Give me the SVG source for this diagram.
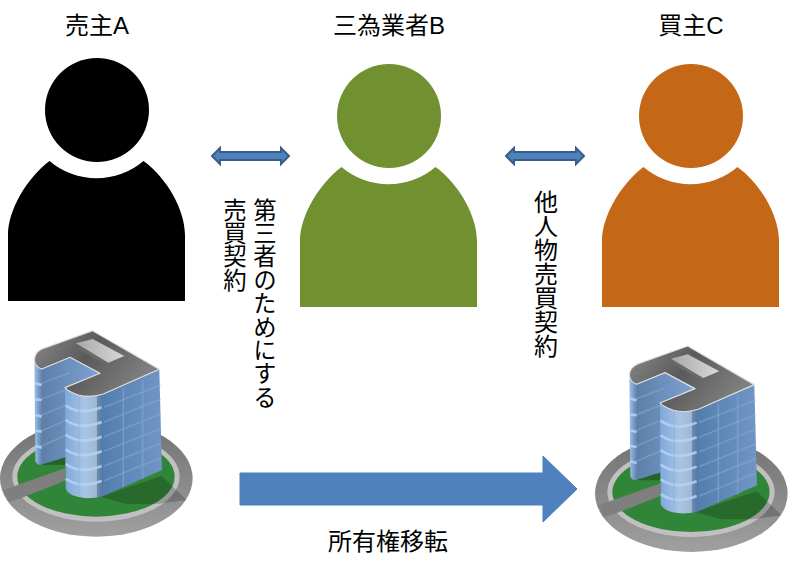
<svg xmlns="http://www.w3.org/2000/svg" xmlns:xlink="http://www.w3.org/1999/xlink" width="788" height="568" viewBox="0 0 788 568">
<style>
text{font-family:"Liberation Sans","Noto Sans CJK JP",sans-serif;font-size:24px;fill:#000}
.v{writing-mode:vertical-rl;text-orientation:upright}
.dbl{fill:#4f81bd;stroke:#385d8a;stroke-width:2}
.win{stroke:#8db0d8;stroke-width:5;fill:none;opacity:.45}
.bar{stroke:#b4d4f6;stroke-width:8;fill:none;opacity:.85}
</style>
<defs>
<linearGradient id="gnd" x1="0" y1="0" x2="0" y2="1"><stop offset="0" stop-color="#707070"/><stop offset="1" stop-color="#a0a0a0"/></linearGradient>
<linearGradient id="roof" x1="0" y1="0" x2="1" y2="0.4"><stop offset="0" stop-color="#8a8a8a"/><stop offset=".5" stop-color="#5a5a5a"/><stop offset="1" stop-color="#808080"/></linearGradient>
<linearGradient id="corner" x1="0" y1="0" x2="1" y2="0"><stop offset="0" stop-color="#7ea8da"/><stop offset=".5" stop-color="#a8c4e4"/><stop offset=".82" stop-color="#a0b8d4"/><stop offset=".84" stop-color="#6c8cb0"/><stop offset="1" stop-color="#4f76a2"/></linearGradient>
<linearGradient id="face" x1="0" y1="0" x2="1" y2="0"><stop offset="0" stop-color="#4f7cac"/><stop offset="1" stop-color="#7096c6"/></linearGradient>
<linearGradient id="back" x1="0" y1="0" x2="1" y2="0"><stop offset="0" stop-color="#9cc2ec"/><stop offset=".12" stop-color="#5d7fa8"/><stop offset="1" stop-color="#7fa3d4"/></linearGradient>
<linearGradient id="boxg" x1="0" y1="0" x2="1" y2="0"><stop offset="0" stop-color="#a8a8a8"/><stop offset="1" stop-color="#d8d8d8"/></linearGradient>
<clipPath id="gc"><ellipse cx="289" cy="475" rx="289" ry="175"/></clipPath>
<g id="person">
<circle cx="0" cy="0" r="52"/>
<path d="M-89,191V125C-89,100-70,68-47.500,51A72.500,72.500 0 0 0 46.500,51C70,68 88,100 88,125V191Z"/>
</g>
<g id="bldg">
<ellipse cx="289" cy="475" rx="289" ry="175" fill="url(#gnd)"/>
<ellipse cx="288" cy="470" rx="251" ry="135" fill="#c0c0c0"/>
<ellipse cx="288" cy="470" rx="236" ry="120" fill="#318538"/>
<path d="M10,510L195,445V482L62,535L25,545Z" fill="#7f7f7f"/>
<path d="M300,530L485,468L560,540L470,552L380,552Z" fill="#000" opacity=".2" clip-path="url(#gc)"/>
<path d="M120,435L195,412V435H130Z" fill="#000" opacity=".25"/>
<path d="M103,120L106,422Q108,432 120,435L200,410L300,160L210,112L125,147Q106,140 103,120Z" fill="url(#back)"/>
<path d="M125,190L210,158M125,238L200,208M125,285L200,255M125,332L200,300M125,378L200,345" class="win"/>
<path d="M106,190L125,195M106,238L125,240M106,285L125,290M106,332L125,335M106,378L125,383" class="bar"/>
<path d="M300,220L478,148L486,450L310,528L290,533Z" fill="url(#face)"/>
<path d="M195,205L197,505Q203,530 262,535Q285,535 310,528L305,215Q270,235 235,225Q205,215 195,205Z" fill="url(#corner)"/>
<path d="M312,262L482,195M312,306L482,238M312,350L482,282M312,394L482,326M312,438L482,370M312,482L482,414" class="win"/>
<path d="M370,205V502M428,180V478" class="win"/>
<path d="M197,256Q240,288 305,262M197,300Q240,332 305,306M197,344Q240,376 305,350M197,388Q240,420 305,394M197,432Q240,464 305,438M197,476Q240,508 305,482" class="bar"/>
<path d="M237,232V527" class="win"/>
<path d="M103,120Q104,95 130,85L278,32L478,148L310,222Q270,235 235,225Q205,215 195,203L300,160L210,112L125,147Q105,140 103,120Z" fill="url(#roof)" stroke="#e0e0e0" stroke-width="3.500" stroke-linejoin="round"/>
<path d="M238,78L325,128L373,108V114L325,138L238,90Z" fill="#6a6a6a"/>
<path d="M228,70L278,57L373,108L325,128Z" fill="url(#boxg)"/>
</g>
</defs>

<g id="personA"><use href="#person" x="97" y="110" fill="#000"/><text x="97" y="34" text-anchor="middle">売主A</text></g>
<g id="personB"><use href="#person" x="389" y="116" fill="#71902f"/><text x="389" y="34" text-anchor="middle">三為業者B</text></g>
<g id="personC"><use href="#person" x="691" y="116" fill="#c46716"/><text x="691" y="34" text-anchor="middle">買主C</text></g>
<g id="buildingA"><use href="#bldg" transform="translate(0,320) scale(.3333)"/></g>
<g id="buildingC"><use href="#bldg" transform="translate(595,335.3) scale(.3333)"/></g>

<g id="connectors">
<path class="dbl" d="M212,156L220,148V152H281V148L289,156L281,164V160H220V164Z"/>
<path class="dbl" d="M506,156L514,148V152H576V148L584,156L576,164V160H514V164Z"/>
<path d="M240,473H543V456L577,489L543,522V505H240Z" fill="#4f81bd" stroke="#4a7ebb"/>
</g>
<g id="labels">
<text class="v" x="263" y="198" style="font-size:23.400px">第三者のためにする</text>
<text class="v" x="233" y="198" style="font-size:23.400px">売買契約</text>
<text class="v" x="544" y="190">他人物売買契約</text>
<text x="388" y="550" text-anchor="middle">所有権移転</text>
</g>
</svg>
